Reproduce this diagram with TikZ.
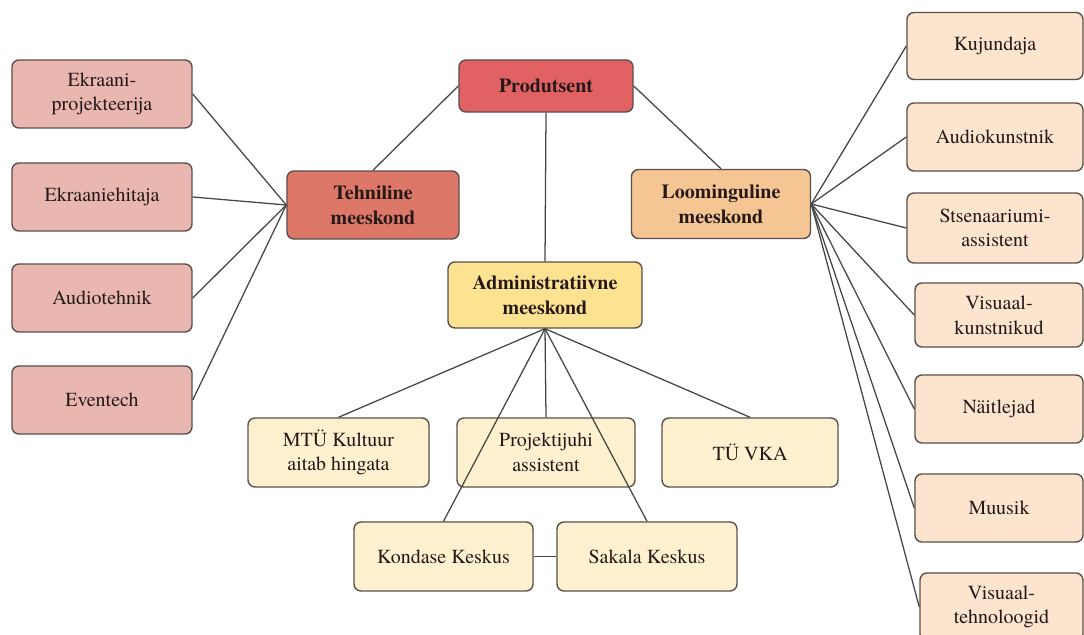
\documentclass[tikz,border=0pt]{standalone}
\usepackage{fontspec}
\newfontfamily\diagfont{TeX Gyre Termes}
\usepackage{xcolor}

\definecolor{prodred}{RGB}{226,98,100}
\definecolor{techred}{RGB}{221,120,104}
\definecolor{techpink}{RGB}{233,182,176}
\definecolor{loomorange}{RGB}{246,197,148}
\definecolor{loompeach}{RGB}{252,228,206}
\definecolor{admyellow}{RGB}{253,226,146}
\definecolor{admcream}{RGB}{255,241,207}
\definecolor{boxedge}{RGB}{90,80,75}
\definecolor{linkgray}{RGB}{70,70,70}
\definecolor{inkdark}{RGB}{35,25,25}

\begin{document}
\begin{tikzpicture}[x=0.025cm, y=-0.025cm,
    box/.style={draw=boxedge, line width=1pt, rounded corners=5pt, align=center,
        text=inkdark, font=\diagfont\fontsize{14.2}{17.5}\selectfont,
        minimum width=4.4cm, minimum height=1.7cm, inner sep=2pt},
    head/.style={box, font=\diagfont\fontsize{14.2}{17.5}\selectfont\bfseries},
    link/.style={draw=linkgray, line width=0.9pt}]
    \useasboundingbox (0,0) rectangle (1084,635);

    % top level
    \node[head, fill=prodred, minimum width=4.35cm, minimum height=1.3cm] (prod) at (546,86) {Produtsent};
    \node[head, fill=techred, minimum width=4.3cm] (tech) at (373,205) {Tehniline\\meeskond};
    \node[head, fill=loomorange, minimum width=4.475cm, minimum height=1.725cm] (loom) at (721,204) {Loominguline\\meeskond};
    \node[head, fill=admyellow, minimum width=4.85cm, minimum height=1.65cm] (admin) at (545,295) {Administratiivne\\meeskond};

    % technical team
    \node[box, fill=techpink, minimum width=4.5cm] (ekrproj) at (102,94) {Ekraani-\\projekteerija};
    \node[box, fill=techpink, minimum width=4.5cm] (ekrehit) at (102,197) {Ekraaniehitaja};
    \node[box, fill=techpink, minimum width=4.5cm] (audtehn) at (102,298) {Audiotehnik};
    \node[box, fill=techpink, minimum width=4.5cm] (eventech) at (102,400) {Eventech};

    % creative team
    \node[box, fill=loompeach, minimum height=1.675cm] (kujund) at (995,46) {Kujundaja};
    \node[box, fill=loompeach] (audkunst) at (995,137) {Audiokunstnik};
    \node[box, fill=loompeach, minimum height=1.75cm] (stsen) at (995,228) {Stsenaariumi-\\assistent};
    \node[box, fill=loompeach, minimum width=4.2cm, minimum height=1.6cm] (viskunst) at (999,315) {Visuaal-\\kunstnikud};
    \node[box, fill=loompeach, minimum width=4.2cm] (naitl) at (999,409) {Näitlejad};
    \node[box, fill=loompeach, minimum width=4.2cm] (muusik) at (999,508) {Muusik};
    \node[box, fill=loompeach, minimum width=4.075cm] (vistehn) at (1001.5,607) {Visuaal-\\tehnoloogid};

    % administrative team
    \node[box, fill=admcream, minimum width=4.525cm, minimum height=1.725cm] (mtu) at (338.5,452.5) {MTÜ Kultuur\\aitab hingata};
    \node[box, fill=admcream, minimum width=4.45cm, minimum height=1.725cm] (projass) at (546,452.5) {Projektijuhi\\assistent};
    \node[box, fill=admcream, minimum height=1.725cm] (tuvka) at (750,452.5) {TÜ VKA};
    \node[box, fill=admcream, minimum width=4.475cm, minimum height=1.725cm] (kondas) at (443.5,556.5) {Kondase Keskus};
    \node[box, fill=admcream, minimum width=4.5cm, minimum height=1.725cm] (sakala) at (647,556.5) {Sakala Keskus};

    % links
    \draw[link] (prod.west) -- (tech.north);
    \draw[link] (prod.east) -- (loom.north);
    \draw[link] (prod.south) -- (admin.north);
    \foreach \n in {ekrproj, ekrehit, audtehn, eventech}
        \draw[link] (tech.west) -- (\n.east);
    \foreach \n in {kujund, audkunst, stsen, viskunst, naitl, muusik, vistehn}
        \draw[link] (loom.east) -- (\n.west);
    \foreach \n in {mtu, projass, tuvka, kondas, sakala}
        \draw[link] (admin.south) -- (\n.north);
    \draw[link] (kondas.east) -- (sakala.west);
\end{tikzpicture}
\end{document}
